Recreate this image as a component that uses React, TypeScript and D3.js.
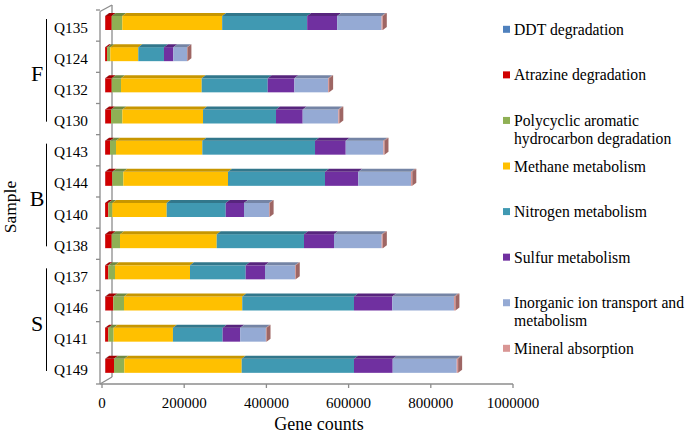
import * as d3 from "d3";

const samples = ["Q135", "Q124", "Q132", "Q130", "Q143", "Q144", "Q140", "Q138", "Q137", "Q146", "Q141", "Q149"];
const groupNames = ["F", "B", "S"];
const groupMembers = [
  ["Q135", "Q124", "Q132", "Q130"],
  ["Q143", "Q144", "Q140", "Q138"],
  ["Q137", "Q146", "Q141", "Q149"]
];

// gene counts per pathway, same order as samples
const ddt = [600, 300, 500, 500, 400, 600, 300, 500, 300, 700, 300, 700];
const atrazine = [15700, 4700, 15800, 14100, 11800, 17200, 7700, 15800, 7700, 19500, 7700, 21200];
const pah = [25800, 8000, 22700, 27600, 14600, 26800, 9700, 20200, 16300, 26000, 13000, 25100];
const methane = [243000, 68000, 196300, 196300, 210000, 254700, 132400, 235300, 182500, 287800, 144300, 285600];
const nitrogen = [206800, 62500, 160600, 177600, 274200, 236000, 143600, 212400, 135500, 271800, 120900, 273200];
const sulfur = [73000, 22700, 64900, 64900, 74700, 81000, 44500, 73000, 47000, 93200, 42800, 94200];
const inorganic = [108000, 33300, 82000, 86600, 91500, 128200, 60800, 116000, 73000, 150100, 62500, 155700];
const mineral = [3000, 1000, 2500, 2500, 2800, 3200, 1500, 2800, 1800, 3500, 1500, 3500];

const seriesNames = [
  "DDT degradation",
  "Atrazine degradation",
  "Polycyclic aromatic hydrocarbon degradation",
  "Methane metabolism",
  "Nitrogen metabolism",
  "Sulfur metabolism",
  "Inorganic ion transport and metabolism",
  "Mineral absorption"
];
const legendLines = [
  ["DDT degradation"],
  ["Atrazine degradation"],
  ["Polycyclic aromatic", "hydrocarbon degradation"],
  ["Methane metabolism"],
  ["Nitrogen metabolism"],
  ["Sulfur metabolism"],
  ["Inorganic ion transport and", "metabolism"],
  ["Mineral absorption"]
];
const seriesValues = [ddt, atrazine, pah, methane, nitrogen, sulfur, inorganic, mineral];
const colors = ["#4F81BD", "#D00000", "#8FB054", "#FFC000", "#4099B2", "#7030A0", "#95AAD4", "#D99694"];

const FONT = "Liberation Serif, DejaVu Serif, serif";

export default function App() {
  const width = 685;
  const height = 435;

  const x = d3.scaleLinear().domain([0, 1000000]).range([102, 513]);
  const y = d3.scaleBand<string>().domain(samples).range([10, 384]);

  const rows = samples.map((s, i) => {
    const row: Record<string, number | string> = { sample: s };
    seriesNames.forEach((name, k) => (row[name] = seriesValues[k][i]));
    return row;
  });
  const stacked = d3.stack<Record<string, number | string>>().keys(seriesNames)(rows as any);

  const depthX = 4;
  const depthY = 3;
  const barOffset = 3;
  const barTop = (s: string) => (y(s) ?? 0) + 6;
  const barH = 14;

  const ticks = x.ticks(5);

  const legendY = d3.scaleLinear().domain([0, 7]).range([29.3, 348.3]);
  const txt = { fontFamily: FONT, fill: "#000" };

  return (
    <svg
      width={width}
      height={height}
      style={{ position: "fixed", left: 0, top: 0, background: "#fff", fontFamily: FONT }}
    >
      {/* 3D walls / axes */}
      <g stroke="#8c8c8c" strokeWidth={1.3} fill="none">
        <line x1={100} y1={11.5} x2={100} y2={384} />
        <line x1={112} y1={5} x2={112} y2={377} />
        <line x1={100} y1={11.5} x2={112} y2={5} />
        <line x1={100} y1={384} x2={112} y2={377} />
        <line x1={100} y1={384} x2={513} y2={384} />
        {samples.map((s) => (
          <line key={s} x1={96} x2={100} y1={y(s) ?? 0} y2={y(s) ?? 0} />
        ))}
        <line x1={96} x2={100} y1={384} y2={384} />
        {ticks.map((t) => (
          <line key={t} x1={x(t)} x2={x(t)} y1={384} y2={388} />
        ))}
      </g>

      {/* bars */}
      {samples.map((s, i) => {
        const top = barTop(s);
        const end = x(stacked[stacked.length - 1][i][1]) + barOffset;
        return (
          <g key={s}>
            {stacked.map((layer, k) => {
              const x0 = x(layer[i][0]) + barOffset;
              const x1 = x(layer[i][1]) + barOffset;
              if (x1 - x0 <= 0) return null;
              const topColor = d3.color(colors[k])!.darker(0.7).formatHex();
              return (
                <g key={k}>
                  <rect x={x0} y={top} width={x1 - x0} height={barH} fill={colors[k]} />
                  <polygon
                    points={`${x0},${top} ${x0 + depthX},${top - depthY} ${x1 + depthX},${top - depthY} ${x1},${top}`}
                    fill={topColor}
                  />
                </g>
              );
            })}
            <polygon
              points={`${end},${top} ${end + depthX},${top - depthY} ${end + depthX},${top + barH - depthY} ${end},${top + barH}`}
              fill="#9E6664"
            />
          </g>
        );
      })}

      {/* x tick labels */}
      {ticks.map((t) => (
        <text key={t} x={x(t)} y={408} textAnchor="middle" fontSize={15} style={txt}>
          {d3.format("d")(t)}
        </text>
      ))}
      <text x={319} y={430} textAnchor="middle" fontSize={18} style={txt}>
        Gene counts
      </text>

      {/* sample labels */}
      {samples.map((s) => (
        <text
          key={s}
          x={88}
          y={(y(s) ?? 0) + y.bandwidth() / 2 + 1.5}
          textAnchor="end"
          dominantBaseline="central"
          fontSize={15.3}
          style={txt}
        >
          {s}
        </text>
      ))}

      {/* group brackets */}
      {groupNames.map((g, gi) => {
        const members = groupMembers[gi];
        const y0 = y(members[0]) ?? 0;
        const y1 = (y(members[members.length - 1]) ?? 0) + y.bandwidth();
        return (
          <g key={g}>
            <line x1={46.5} x2={46.5} y1={y0 + 9} y2={y1 - 13} stroke="#000" strokeWidth={1} />
            <text
              x={37}
              y={(y0 + y1) / 2 + 1.5}
              textAnchor="middle"
              dominantBaseline="central"
              fontSize={22}
              style={txt}
            >
              {g}
            </text>
          </g>
        );
      })}

      <text
        transform="translate(10,207) rotate(-90)"
        textAnchor="middle"
        dominantBaseline="central"
        fontSize={17.5}
        style={txt}
      >
        Sample
      </text>

      {/* legend */}
      {legendLines.map((lines, k) => {
        const cy = legendY(k);
        return (
          <g key={k}>
            <rect x={503} y={cy - 3.5} width={7} height={7} fill={colors[k]} />
            {lines.map((ln, j) => (
              <text key={j} x={514} y={cy + j * 18} dominantBaseline="central" fontSize={15.7} style={txt}>
                {ln}
              </text>
            ))}
          </g>
        );
      })}
    </svg>
  );
}
